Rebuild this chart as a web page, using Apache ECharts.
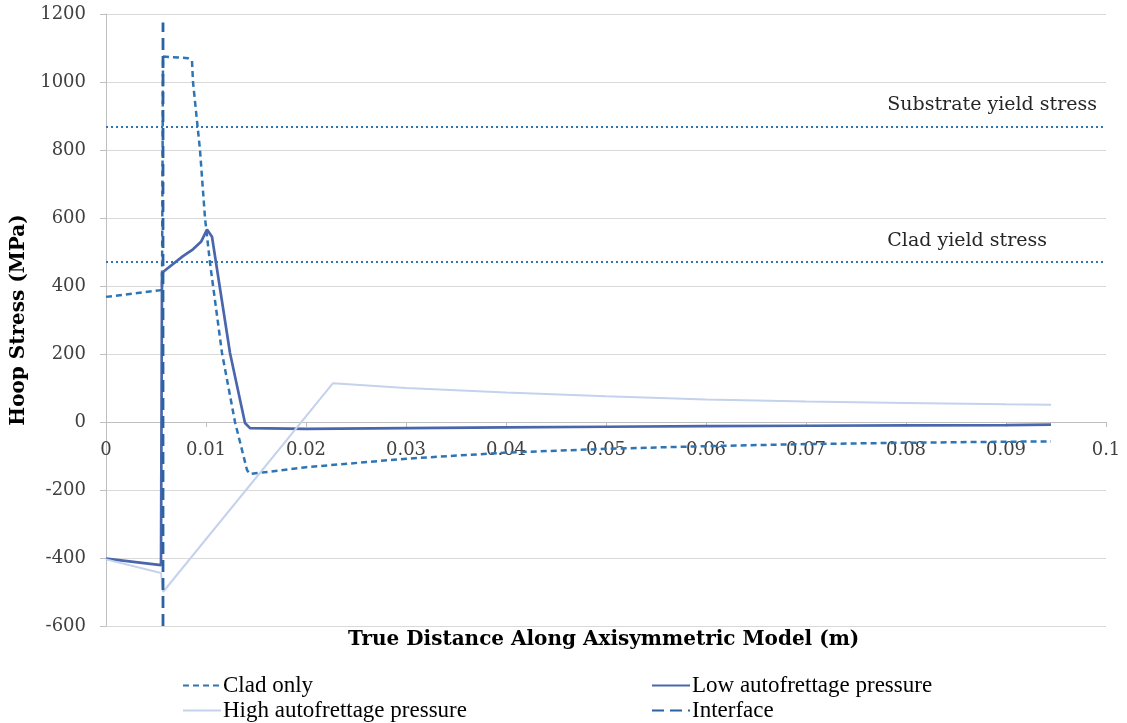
<!DOCTYPE html>
<html>
<head>
<meta charset="utf-8">
<script src="https://cdn.jsdelivr.net/npm/echarts@6/dist/echarts.min.js"></script>
<style>
  html, body { margin: 0; padding: 0; background: #fff; }
  #chart { width: 1127px; height: 723px; }
</style>
</head>
<body>
<div id="chart"></div>
<script>
// x in m, y in MPa
var cladOnly = [
    [0, 368], [0.0056, 388], [0.0057, 1075], [0.0082, 1070], [0.0086, 1062],
    [0.0087, 1000], [0.0094, 800], [0.0099, 600], [0.0104, 468], [0.0116, 203],
    [0.0129, 0], [0.0141, -141], [0.0144, -153],
    [0.02, -133], [0.03, -108], [0.04, -90], [0.05, -79], [0.06, -71],
    [0.07, -65], [0.08, -61], [0.09, -58], [0.0945, -57]
];
var lowAuto = [
    [0, -402], [0.0055, -421], [0.0056, 439], [0.0077, 488], [0.0087, 508],
    [0.0095, 530], [0.0101, 566], [0.0106, 545], [0.0124, 203], [0.0139, -3],
    [0.0144, -18], [0.02, -20], [0.03, -18], [0.04, -16], [0.05, -14],
    [0.06, -12], [0.07, -11], [0.08, -10], [0.09, -9], [0.0945, -8]
];
var highAuto = [
    [0, -404], [0.0055, -444], [0.0057, -500], [0.0227, 114], [0.03, 100],
    [0.04, 87], [0.05, 76], [0.06, 66], [0.07, 60], [0.08, 56], [0.09, 52],
    [0.0945, 51]
];
var interfaceLine = [[0.0057, -600], [0.0057, 1175]];

var yieldLevels = [868, 470];
var yieldNames = ['Substrate yield stress', 'Clad yield stress'];
var seriesNames = ['Clad only', 'Low autofrettage pressure', 'High autofrettage pressure', 'Interface'];

var serif = 'DejaVu Serif';
var chart = echarts.init(document.getElementById('chart'));

var legendBase = {
    orient: 'vertical', itemGap: 2, padding: 0,
    itemWidth: 38, itemHeight: 12, height: 60,
    itemStyle: { opacity: 0 },
    textStyle: { fontFamily: 'Liberation Serif', fontSize: 23, color: '#000', padding: [0, 0, 0, -3] }
};

var option = {
    animation: false,
    backgroundColor: '#fff',
    grid: { left: 106, right: 21, top: 14, bottom: 97, outerBoundsMode: 'none' },
    title: {
        text: 'True Distance Along Axisymmetric Model (m)',
        left: 348,
        top: 630,
        padding: 0,
        textStyle: { fontFamily: serif, fontWeight: 'bold', fontSize: 20, color: '#000' }
    },
    legend: [
        Object.assign({}, legendBase, { left: 182, top: 674, data: [seriesNames[0], seriesNames[2]] }),
        Object.assign({}, legendBase, { left: 651, top: 674, data: [seriesNames[1], seriesNames[3]] })
    ],
    xAxis: {
        type: 'value', min: 0, max: 0.1, interval: 0.01,
        position: 'bottom', offset: -204,
        axisLine: { onZero: false, lineStyle: { color: '#bfbfbf' } },
        axisTick: { show: true, length: 5, lineStyle: { color: '#bfbfbf' } },
        splitLine: { show: false },
        axisLabel: {
            margin: 19, fontFamily: serif, fontSize: 18, color: '#404040',
            formatter: function (v) { return String(parseFloat(v.toFixed(2))); }
        }
    },
    yAxis: {
        type: 'value', min: -600, max: 1200, interval: 200,
        name: 'Hoop Stress (MPa)', nameLocation: 'middle', nameGap: 76,
        nameTextStyle: { fontFamily: serif, fontWeight: 'bold', fontSize: 20, color: '#000' },
        axisLine: { show: true, lineStyle: { color: '#bfbfbf' } },
        axisTick: { show: true, length: 6, lineStyle: { color: '#bfbfbf' } },
        splitLine: { lineStyle: { color: '#d9d9d9' } },
        axisLabel: {
            margin: 20, fontFamily: serif, fontSize: 18, color: '#404040',
            formatter: function (v) { return String(v); }
        }
    },
    series: [{
        name: seriesNames[0], type: 'line', data: cladOnly, symbol: 'none',
        lineStyle: { color: '#2e75b6', width: 2.5, type: [6, 4] },
        itemStyle: { color: '#2e75b6' }
    }, {
        name: seriesNames[1], type: 'line', data: lowAuto, symbol: 'none',
        lineStyle: { color: '#4a66ac', width: 2.7 },
        itemStyle: { color: '#4a66ac' }
    }, {
        name: seriesNames[2], type: 'line', data: highAuto, symbol: 'none',
        lineStyle: { color: '#c5d2ec', width: 2 },
        itemStyle: { color: '#c5d2ec' }
    }, {
        name: seriesNames[3], type: 'line', data: interfaceLine, symbol: 'none',
        lineStyle: { color: '#2a62a4', width: 2.8, type: [12, 6] },
        itemStyle: { color: '#2a62a4' }
    }, {
        name: 'yield', type: 'line', data: [], symbol: 'none',
        markLine: {
            silent: true, symbol: 'none',
            lineStyle: { color: '#2e75b6', width: 2, type: [2, 3] },
            data: [{
                yAxis: yieldLevels[0],
                label: {
                    formatter: yieldNames[0], position: 'insideEndTop', distance: [9, 12],
                    fontFamily: serif, fontSize: 19, color: '#262626'
                }
            }, {
                yAxis: yieldLevels[1],
                label: {
                    formatter: yieldNames[1], position: 'insideEndTop', distance: [59, 12],
                    fontFamily: serif, fontSize: 19, color: '#262626'
                }
            }]
        }
    }]
};
chart.setOption(option);
</script>
</body>
</html>
